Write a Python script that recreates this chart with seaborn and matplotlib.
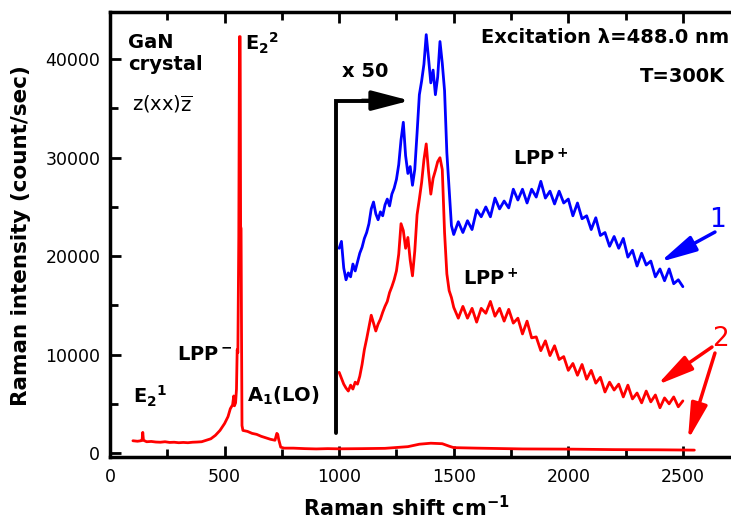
import numpy as np
import pandas as pd
import matplotlib
matplotlib.use("Agg")
import matplotlib.pyplot as plt
import seaborn as sns

# ---------------- DATA ----------------
# full Raman spectrum, sample 2 (red, bottom trace)
full_shift = [100, 120, 135, 140, 143, 146, 160, 180, 200, 220, 240, 260, 280, 300,
              320, 340, 360, 380, 400, 420, 440, 460, 480, 500, 515, 525, 535, 540,
              543, 548, 552, 555, 558, 562, 565, 568, 570, 572, 574, 576, 580, 600,
              620, 640, 660, 680, 700, 720, 728, 732, 736, 745, 760, 800, 850, 900,
              950, 1000, 1100, 1200, 1300, 1350, 1400, 1450, 1480, 1500, 1600, 1800,
              2000, 2200, 2400, 2550]
full_int = [1250, 1200, 1250, 1300, 2100, 1300, 1150, 1180, 1120, 1100, 1150, 1080, 1100, 1050,
            1080, 1050, 1100, 1120, 1150, 1300, 1450, 1800, 2300, 3000, 3700, 4500, 4900, 5800,
            4800, 5100, 6500, 10500, 10200, 22000, 42300, 42300, 23000, 22800, 12000, 2800, 2300, 2200,
            2000, 1900, 1700, 1550, 1400, 1300, 2000, 1900, 1400, 600, 500, 500, 450, 420,
            450, 430, 450, 480, 650, 900, 1000, 950, 700, 550, 500, 420,
            400, 350, 330, 300]

# x50 magnified part, 1000-2500 cm-1
zoom_shift = [1000, 1010, 1020, 1030, 1040, 1050, 1060, 1070, 1080, 1090,
              1100, 1110, 1120, 1130, 1140, 1150, 1160, 1170, 1180, 1190,
              1200, 1210, 1220, 1230, 1240, 1250, 1260, 1270, 1280, 1290,
              1300, 1310, 1320, 1330, 1340, 1350, 1360, 1370, 1380, 1390,
              1400, 1410, 1420, 1430, 1440, 1450, 1460, 1470, 1480, 1490,
              1500, 1520, 1540, 1560, 1580, 1600, 1620, 1640, 1660, 1680,
              1700, 1720, 1740, 1760, 1780, 1800, 1820, 1840, 1860, 1880,
              1900, 1920, 1940, 1960, 1980, 2000, 2020, 2040, 2060, 2080,
              2100, 2120, 2140, 2160, 2180, 2200, 2220, 2240, 2260, 2280,
              2300, 2320, 2340, 2360, 2380, 2400, 2420, 2440, 2460, 2480, 2500]

# sample 1 (blue)
blue_x50 = [20800, 21500, 18800, 17600, 18300, 17900, 19200, 18500, 19400, 20300,
            20900, 21800, 22400, 23300, 24800, 25500, 24300, 23700, 24500, 24100,
            25200, 25800, 25100, 26300, 26900, 27800, 29300, 31800, 33600, 30200,
            28400, 29100, 27200, 28800, 32500, 36400, 37800, 39500, 42500, 40100,
            37600, 38900, 36400, 38200, 41800, 39600, 36800, 30500, 26800, 23100,
            22200, 23500, 22400, 23600, 22700, 24700, 24000, 25000, 24000, 25900,
            24800, 25600, 24900, 26800, 25700, 26800, 25400, 26800, 26000, 27600,
            25900, 26600, 25300, 26600, 25400, 25800, 24100, 25400, 23800, 24100,
            22700, 23900, 22100, 22400, 21000, 22000, 20800, 21800, 19900, 20600,
            19000, 20300, 19100, 19500, 17900, 18700, 17500, 18700, 17200, 17600, 16900]

# sample 2 (red)
red_x50 = [8200, 7600, 7000, 6600, 6300, 6900, 6500, 7200, 7000, 7800,
           9000, 10500, 11600, 12800, 14000, 13200, 12400, 13100, 13600, 14300,
           14900, 15400, 16300, 16900, 17600, 18500, 20200, 23300, 22600, 20800,
           21900, 19600, 18000, 20500, 24200, 25800, 27500, 29800, 31400, 28600,
           26300, 27900, 28700, 29600, 30000, 28800, 22400, 18200, 16500, 15800,
           14800, 13700, 14900, 13700, 14700, 13300, 14700, 14200, 15400, 13900,
           14700, 13400, 14600, 13200, 13700, 12100, 13400, 11700, 11800, 10400,
           11400, 9900, 10900, 9500, 9800, 8400, 9100, 7900, 9000, 7500,
           8400, 7100, 7700, 6200, 7200, 6400, 7000, 5700, 6900, 5500,
           6100, 5100, 6300, 5200, 5900, 4600, 5600, 5000, 5700, 4700, 5300]

RED = '#ff0000'
BLUE = '#0000ff'

# ---------------- STYLE ----------------
sns.set_style('ticks')
plt.rcParams['font.family'] = ['DejaVu Sans']
plt.rcParams['text.color'] = 'black'
plt.rcParams['axes.labelcolor'] = 'black'
plt.rcParams['mathtext.fontset'] = 'custom'
plt.rcParams['mathtext.rm'] = 'DejaVu Sans'
plt.rcParams['mathtext.bf'] = 'DejaVu Sans:bold'
plt.rcParams['mathtext.it'] = 'DejaVu Sans:italic'
plt.rcParams['mathtext.default'] = 'bf'

fig = plt.figure(figsize=(7.31, 5.21), dpi=100)
ax = fig.add_axes([110 / 731, 64 / 521, 621 / 731, 445 / 521])

# ---------------- CURVES ----------------
sns.lineplot(x=full_shift, y=full_int, ax=ax, color=RED, lw=2.0,
             estimator=None, sort=False)
sns.lineplot(x=zoom_shift, y=blue_x50, ax=ax, color=BLUE, lw=2.0,
             estimator=None, sort=False)
sns.lineplot(x=zoom_shift, y=red_x50, ax=ax, color=RED, lw=2.0,
             estimator=None, sort=False)

# ---------------- AXES ----------------
ax.set_xlim(0, 2710)
ax.set_ylim(-400, 44800)
ax.set_xticks([0, 500, 1000, 1500, 2000, 2500])
ax.set_xticks([250, 750, 1250, 1750, 2250], minor=True)
ax.set_yticks([0, 10000, 20000, 30000, 40000])
ax.set_yticks([5000, 15000, 25000, 35000], minor=True)
ax.tick_params(which='both', direction='in', top=True, right=False, width=2,
               labelsize=12.5, colors='black')
ax.tick_params(which='major', length=8, pad=7)
ax.tick_params(which='minor', length=5.5)
ax.tick_params(axis='x', which='major', pad=8)
ax.spines['right'].set_visible(False)
for s in ['left', 'top', 'bottom']:
    ax.spines[s].set_linewidth(2.5)
    ax.spines[s].set_color('black')

ax.set_xlabel('Raman shift cm$^{-1}$', fontsize=15, fontweight='bold', color='black')
ax.set_ylabel('Raman intensity (count/sec)', fontsize=15.5, fontweight='bold', color='black')
ax.xaxis.set_label_coords(0.478, -0.085)
ax.yaxis.set_label_coords(-0.127, 0.497)

# ---------------- ANNOTATIONS ----------------
bold = dict(fontsize=14, fontweight='bold', color='black')
ax.text(80, 42700, 'GaN\ncrystal', ha='left', va='top', **bold)
ax.text(95, 35400, r'$\mathrm{z(xx)\overline{z}}$', ha='left', va='center',
        fontsize=14, color='black')
ax.text(589, 42900, 'E$_2$$^2$', ha='left', va='top', **bold)
ax.text(100, 5080, 'E$_2$$^1$', ha='left', va='baseline', **bold)
ax.text(292, 9450, 'LPP$^-$', ha='left', va='baseline', **bold)
ax.text(598, 5180, 'A$_1$(LO)', ha='left', va='baseline', **bold)
ax.text(1760, 29260, 'LPP$^+$', ha='left', va='baseline', **bold)
ax.text(1540, 17070, 'LPP$^+$', ha='left', va='baseline', **bold)
ax.text(2700, 42200, 'Excitation λ=488.0 nm', ha='right', va='center', **bold)
ax.text(2683, 38250, 'T=300K', ha='right', va='center', **bold)
ax.text(1011, 38760, 'x 50', ha='left', va='center', **bold)

# x50 bracket arrow
ax.plot([986, 986, 1150], [2000, 35800, 35800], color='black', lw=2.8,
        solid_joinstyle='miter')
ax.annotate('', xy=(1309, 35800), xytext=(1100, 35800),
            arrowprops=dict(arrowstyle='-|>,head_length=2.3,head_width=0.6',
                            mutation_scale=10, lw=2.8, color='black',
                            shrinkA=0, shrinkB=0))

# sample labels with arrows
ax.text(2653, 23670, '1', ha='center', va='center', fontsize=19, color=BLUE)
ax.annotate('', xy=(2400, 19400), xytext=(2640, 22450),
            arrowprops=dict(arrowstyle='-|>,head_length=2.2,head_width=0.5',
                            mutation_scale=10, lw=2.5, color=BLUE,
                            shrinkA=0, shrinkB=0))
ax.text(2662, 11580, '2', ha='center', va='center', fontsize=19, color=RED)
ax.annotate('', xy=(2387, 6910), xytext=(2627, 10770),
            arrowprops=dict(arrowstyle='-|>,head_length=2.2,head_width=0.5',
                            mutation_scale=10, lw=2.5, color=RED,
                            shrinkA=0, shrinkB=0))
ax.annotate('', xy=(2522, 1320), xytext=(2640, 10160),
            arrowprops=dict(arrowstyle='-|>,head_length=2.2,head_width=0.5',
                            mutation_scale=10, lw=2.5, color=RED,
                            shrinkA=0, shrinkB=0))

fig.savefig('out.png', dpi=100)
